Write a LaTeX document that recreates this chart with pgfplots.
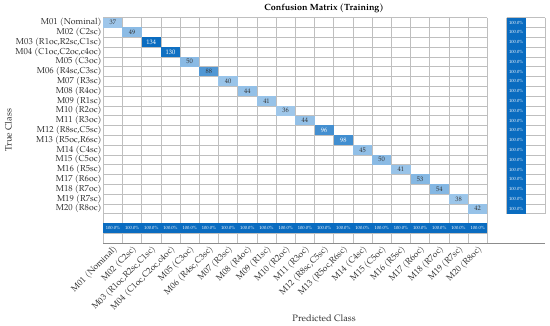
\documentclass[border=0pt]{standalone}
\usepackage{fontspec}
\setmainfont{TeX Gyre Pagella}
\usepackage{pgfplots}
\pgfplotsset{compat=1.18}
\definecolor{gridc}{RGB}{191,191,191}
\definecolor{dblue}{RGB}{10,108,192}
\definecolor{lblue}{RGB}{214,233,250}
\definecolor{txt}{RGB}{50,50,50}
\pgfdeclareplotmark{cell}{\pgfpathrectanglecorners{\pgfpoint{-9.6bp}{-4.9bp}}{\pgfpoint{9.6bp}{4.9bp}}\pgfusepathqfill}
\begin{document}
\begin{tikzpicture}
\begin{axis}[
  at={(0,0)}, anchor=south west,
  scale only axis, width=441.6bp, height=225.3bp,
  xmin=-0.5, xmax=22.5, ymin=-0.5, ymax=22.5, y dir=reverse,
  axis line style={draw=none}, major tick length=0pt,
  clip=false,
  /pgf/number format/assume math mode=true,
  xtick={0,...,19}, ytick={0,...,19},
  xticklabels={{M01 (Nominal)},{M02 (C2sc)},{M03 (R1oc,R2sc,C1sc)},{M04 (C1oc,C2oc,c4oc)},{M05 (C3oc)},{M06 (R4sc,C3sc)},{M07 (R3sc)},{M08 (R4oc)},{M09 (R1sc)},{M10 (R2oc)},{M11 (R3oc)},{M12 (R8sc,C5sc)},{M13 (R5oc,R6sc)},{M14 (C4sc)},{M15 (C5oc)},{M16 (R5sc)},{M17 (R6oc)},{M18 (R7oc)},{M19 (R7sc)},{M20 (R8oc)}},
  yticklabels={{M01 (Nominal)},{M02 (C2sc)},{M03 (R1oc,R2sc,C1sc)},{M04 (C1oc,C2oc,c4oc)},{M05 (C3oc)},{M06 (R4sc,C3sc)},{M07 (R3sc)},{M08 (R4oc)},{M09 (R1sc)},{M10 (R2oc)},{M11 (R3oc)},{M12 (R8sc,C5sc)},{M13 (R5oc,R6sc)},{M14 (C4sc)},{M15 (C5oc)},{M16 (R5sc)},{M17 (R6oc)},{M18 (R7oc)},{M19 (R7sc)},{M20 (R8oc)}},
  x tick label style={rotate=45, anchor=north east, font=\fontsize{8.7}{9}\selectfont, text=txt, inner sep=1pt},
  y tick label style={font=\fontsize{8.7}{9}\selectfont, text=txt, inner sep=1.5pt},
  title={Confusion Matrix (Training)},
  every axis title/.style={at={(axis description cs:0.5,1)}, anchor=center, yshift=9.7bp, font=\bfseries\fontsize{9}{10}\selectfont},
  xlabel={Predicted Class},
  every axis x label/.style={at={(axis description cs:0.5,0)}, anchor=center, yshift=-75bp, font=\fontsize{9.3}{10}\selectfont, text=txt},
  ylabel={True Class},
  every axis y label/.style={at={(axis description cs:0,0.5)}, rotate=90, anchor=center, yshift=95bp, font=\fontsize{9.3}{10}\selectfont, text=txt},
]
% diagonal cells: fill shade grows with the count (max 134)
\addplot[only marks, mark=none, point meta=explicit,
  visualization depends on={\thisrow{v}/1.34 \as \pct},
  nodes near coords,
  every node near coord/.append style={anchor=center, minimum width=19.2bp, minimum height=9.8bp, inner sep=0pt,
    fill=dblue!\pct!lblue, font=\fontsize{6.5}{7}\selectfont,
    text=txt}]
  table[meta=v] {
x y v
0 0 37
1 1 49
4 4 50
5 5 88
6 6 40
7 7 44
8 8 41
9 9 36
10 10 44
13 13 45
14 14 50
15 15 41
16 16 53
17 17 54
18 18 38
19 19 42
};
\addplot[only marks, mark=none, point meta=explicit,
  visualization depends on={\thisrow{v}/1.34 \as \pct},
  nodes near coords,
  every node near coord/.append style={anchor=center, minimum width=19.2bp, minimum height=9.8bp, inner sep=0pt,
    fill=dblue!\pct!lblue, font=\fontsize{6.5}{7}\selectfont,
    text=white}]
  table[meta=v] {
x y v
2 2 134
3 3 130
11 11 96
12 12 98
};
% class accuracy row and column
\addplot[only marks, mark=cell, mark options={fill=dblue}, point meta=explicit,
  nodes near coords={\pgfmathprintnumber[fixed,fixed zerofill,precision=1]{\pgfplotspointmeta}\%},
  every node near coord/.append style={anchor=center, font=\fontsize{4.6}{5}\selectfont, text=white, inner sep=0pt}]
  table[meta=p] {
x y p
0 21 100
1 21 100
2 21 100
3 21 100
4 21 100
5 21 100
6 21 100
7 21 100
8 21 100
9 21 100
10 21 100
11 21 100
12 21 100
13 21 100
14 21 100
15 21 100
16 21 100
17 21 100
18 21 100
19 21 100
21 0 100
21 1 100
21 2 100
21 3 100
21 4 100
21 5 100
21 6 100
21 7 100
21 8 100
21 9 100
21 10 100
21 11 100
21 12 100
21 13 100
21 14 100
21 15 100
21 16 100
21 17 100
21 18 100
21 19 100
};
% grid lines
\pgfplotsinvokeforeach{0,...,20}{
  \draw[gridc, line width=0.6bp] (axis cs:#1-0.5,-0.5) -- (axis cs:#1-0.5,22.5);
  \draw[gridc, line width=0.6bp] (axis cs:-0.5,#1-0.5) -- (axis cs:19.5,#1-0.5);
  \draw[gridc, line width=0.6bp] (axis cs:20.5,#1-0.5) -- (axis cs:22.5,#1-0.5);
}
\draw[gridc, line width=0.6bp] (axis cs:-0.5,21.5) -- (axis cs:19.5,21.5);
\draw[gridc, line width=0.6bp] (axis cs:20.5,-0.5) -- (axis cs:20.5,19.5);
\draw[gridc, line width=0.6bp] (axis cs:21.5,-0.5) -- (axis cs:21.5,19.5);
\draw[gridc, line width=0.6bp] (axis cs:22.5,-0.5) -- (axis cs:22.5,19.5);
\draw[gray!90, line width=0.7bp] (axis cs:-0.5,22.5) -- (axis cs:22.5,22.5);
\end{axis}
\pgfresetboundingbox
\useasboundingbox (-103.3bp,-83bp) rectangle (446.7bp,243bp);
\end{tikzpicture}
\end{document}
